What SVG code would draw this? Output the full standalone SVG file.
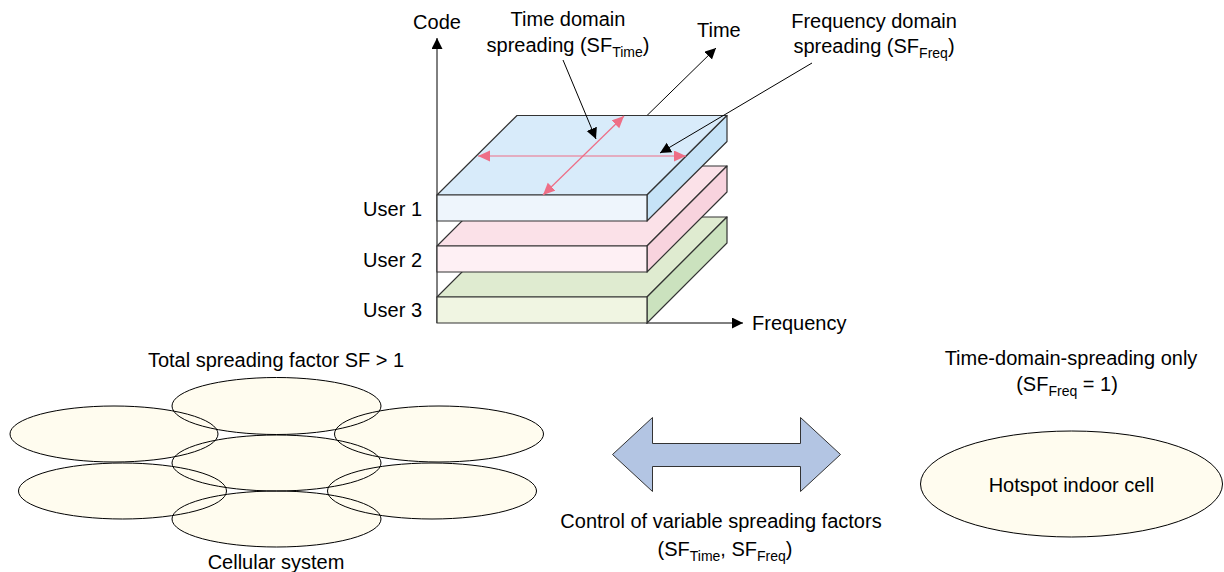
<svg xmlns="http://www.w3.org/2000/svg" width="1224" height="572" viewBox="0 0 1224 572">
<defs>
<marker id="ab" markerUnits="userSpaceOnUse" markerWidth="12" markerHeight="12" refX="11" refY="5.5" orient="auto-start-reverse"><path d="M0,0 L11,5.5 L0,11 z" fill="#000"/></marker>
<marker id="ap" markerUnits="userSpaceOnUse" markerWidth="14" markerHeight="12" refX="12" refY="5.5" orient="auto-start-reverse"><path d="M0,0 L12,5.5 L0,11 z" fill="#EE6E86"/></marker>
<style>
text{font-family:"Liberation Sans",Arial,Helvetica,sans-serif;font-size:20px;fill:#000}
.sub{font-size:14px}
.edge{stroke:#000;stroke-width:1;fill:none}
.pink{stroke:#EE6E86;stroke-width:1.2;fill:none}
.face{stroke:#333;stroke-width:1.2;stroke-linejoin:round}
.cell{fill:#FFFCEF;stroke:#000;stroke-width:1}
.cellfill{fill:#FFFCEF;stroke:none}
.cellline{fill:none;stroke:#000;stroke-width:1}
.mid{text-anchor:middle}
.end{text-anchor:end}
</style>
<ellipse id="c1" cx="114" cy="434" rx="104" ry="28"/>
<ellipse id="c2" cx="122.5" cy="491" rx="104" ry="28"/>
<ellipse id="c3" cx="439" cy="434" rx="104.5" ry="28"/>
<ellipse id="c4" cx="432" cy="491" rx="104.5" ry="28"/>
<ellipse id="c5" cx="276.5" cy="406" rx="104.5" ry="28.5"/>
<ellipse id="c6" cx="276.5" cy="463" rx="104.5" ry="28"/>
<ellipse id="c7" cx="276.5" cy="519" rx="104.5" ry="28"/>
</defs>
<rect width="1224" height="572" fill="#fff"/>

<g id="axes">
<line class="edge" x1="437" y1="323" x2="437" y2="38" marker-end="url(#ab)"/>
<line class="edge" x1="646" y1="323" x2="743" y2="323" marker-end="url(#ab)"/>
<line class="edge" x1="647" y1="115.5" x2="716" y2="48" marker-end="url(#ab)"/>
</g>

<g id="slab-user3">
<polygon class="face" fill="#DFEBD0" points="437,297 517,217 727,217 647,297"/>
<polygon class="face" fill="#CBE2BE" points="647,297 727,217 727,243 647,323"/>
<rect class="face" fill="#F0F5E2" x="437" y="297" width="210" height="26"/>
</g>
<g id="slab-user2">
<polygon class="face" fill="#FBE1E8" points="437,246 517,166 727,166 647,246"/>
<polygon class="face" fill="#F8D3DE" points="647,246 727,166 727,192 647,272"/>
<rect class="face" fill="#FEF0F4" x="437" y="246" width="210" height="26"/>
</g>
<g id="slab-user1">
<polygon class="face" fill="#D8EBFA" points="437,195 517,115.5 727,115.5 647,195"/>
<polygon class="face" fill="#C6E3F7" points="647,195 727,115.5 727,141.5 647,221"/>
<rect class="face" fill="#EEF5FC" x="437" y="195" width="210" height="26"/>
</g>

<g id="spreading-arrows">
<line class="pink" x1="478" y1="156" x2="686" y2="156" marker-start="url(#ap)" marker-end="url(#ap)"/>
<line class="pink" x1="543" y1="195" x2="624" y2="116" marker-start="url(#ap)" marker-end="url(#ap)"/>
</g>

<g id="leaders">
<line class="edge" x1="563" y1="60" x2="596" y2="139" marker-end="url(#ab)"/>
<line class="edge" x1="812" y1="63" x2="660" y2="153" marker-end="url(#ab)"/>
</g>

<g id="labels">
<text class="mid" x="437" y="29">Code</text>
<text x="697" y="37">Time</text>
<text x="752" y="330">Frequency</text>
<text class="end" x="422" y="216">User 1</text>
<text class="end" x="422" y="267">User 2</text>
<text class="end" x="422" y="317">User 3</text>
<text class="mid" x="568" y="26">Time domain</text>
<text class="mid" x="568" y="52">spreading (SF<tspan class="sub" dy="5">Time</tspan><tspan dy="-5">)</tspan></text>
<text class="mid" x="874" y="28">Frequency domain</text>
<text class="mid" x="874" y="53">spreading (SF<tspan class="sub" dy="5">Freq</tspan><tspan dy="-5">)</tspan></text>
</g>

<g id="cellular-system">
<g class="cellfill">
<use href="#c1"/><use href="#c2"/><use href="#c3"/><use href="#c4"/><use href="#c5"/><use href="#c6"/><use href="#c7"/>
</g>
<g class="cellline">
<use href="#c1"/><use href="#c2"/><use href="#c3"/><use href="#c4"/><use href="#c5"/><use href="#c6"/><use href="#c7"/>
</g>
<text class="mid" x="276" y="367">Total spreading factor SF &gt; 1</text>
<text class="mid" x="276" y="569">Cellular system</text>
</g>

<g id="control-arrow">
<polygon fill="#B3C5E3" stroke="#333" stroke-width="1" stroke-linejoin="miter" points="612.5,454.5 652.5,417.5 652.5,443.5 800.5,443.5 800.5,417.5 840.5,454.5 800.5,491.5 800.5,466.5 652.5,466.5 652.5,491.5"/>
<text class="mid" x="721" y="528">Control of variable spreading factors</text>
<text class="mid" x="725" y="556">(SF<tspan class="sub" dy="5">Time</tspan><tspan dy="-5">, SF</tspan><tspan class="sub" dy="5">Freq</tspan><tspan dy="-5">)</tspan></text>
</g>

<g id="hotspot">
<text class="mid" x="1071" y="365">Time-domain-spreading only</text>
<text class="mid" x="1067" y="391">(SF<tspan class="sub" dy="5">Freq</tspan><tspan dy="-5"> = 1)</tspan></text>
<ellipse class="cell" cx="1071.5" cy="484" rx="151" ry="53"/>
<text class="mid" x="1071.5" y="492">Hotspot indoor cell</text>
</g>
</svg>
